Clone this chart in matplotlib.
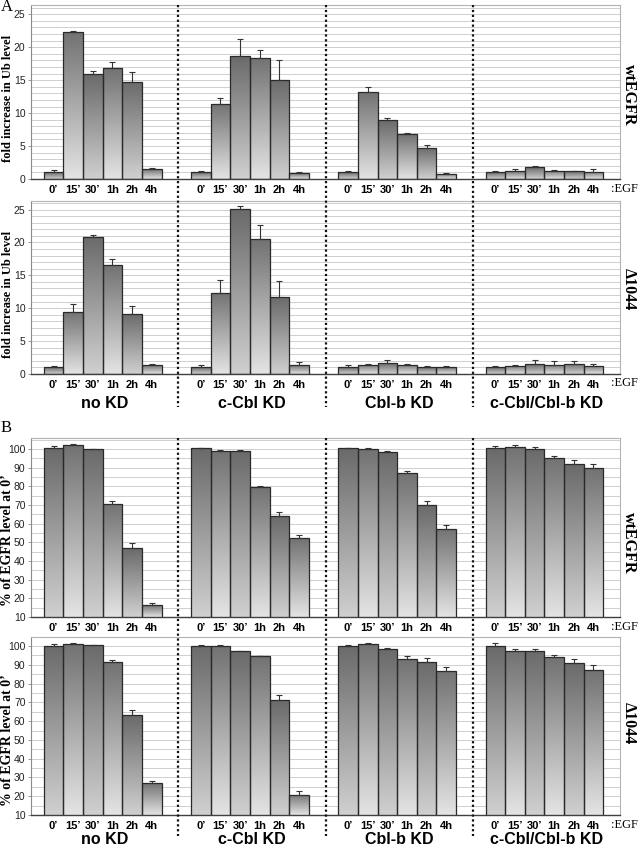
import numpy as np
import matplotlib
matplotlib.use('Agg')
import matplotlib.pyplot as plt
import matplotlib.transforms as mtransforms
from matplotlib.lines import Line2D
from matplotlib.colors import LinearSegmentedColormap

# ---------------- data ----------------
times = ["0’", "15’", "30’", "1h", "2h", "4h"]
groups = ["no KD", "c-Cbl KD", "Cbl-b KD", "c-Cbl/Cbl-b KD"]

ub_wt = [[1.0, 22.3, 15.9, 16.8, 14.75, 1.46],
         [1.0, 11.4, 18.6, 18.4, 15.0, 0.86],
         [1.0, 13.2, 8.9, 6.77, 4.75, 0.76],
         [1.06, 1.2, 1.77, 1.26, 1.16, 1.1]]
ub_wt_err = [[0.35, 0.15, 0.45, 1.0, 1.55, 0.15],
             [0.2, 0.9, 2.6, 1.2, 3.1, 0.2],
             [0.15, 0.7, 0.35, 0.15, 0.45, 0.15],
             [0.1, 0.3, 0.25, 0.15, 0.05, 0.35]]

ub_d = [[1.06, 9.5, 20.85, 16.5, 9.16, 1.3],
        [1.06, 12.35, 25.05, 20.5, 11.7, 1.3],
        [1.0, 1.37, 1.67, 1.42, 1.0, 1.0],
        [1.06, 1.26, 1.5, 1.42, 1.57, 1.26]]
ub_d_err = [[0.2, 1.1, 0.35, 1.0, 1.25, 0.15],
            [0.35, 2.0, 0.5, 2.2, 2.4, 0.45],
            [0.3, 0.15, 0.4, 0.1, 0.15, 0.15],
            [0.2, 0.1, 0.6, 0.6, 0.4, 0.3]]

egfr_wt = [[100.4, 102.0, 99.8, 70.8, 46.9, 16.2],
           [100.4, 99.1, 98.9, 79.7, 64.0, 52.1],
           [100.4, 100.0, 98.2, 87.0, 69.9, 57.4],
           [100.4, 100.9, 100.2, 95.2, 91.8, 89.7]]
egfr_wt_err = [[1.0, 0.7, 0.4, 1.2, 3.0, 1.5],
               [0.4, 0.5, 0.5, 0.7, 2.5, 1.8],
               [0.2, 0.7, 0.5, 1.4, 2.1, 1.8],
               [1.2, 1.2, 0.9, 1.2, 2.5, 2.1]]

egfr_d = [[100.2, 100.9, 100.4, 91.3, 63.1, 26.9],
          [100.2, 100.0, 97.2, 94.5, 71.1, 20.8],
          [100.2, 100.9, 98.2, 93.3, 91.6, 86.7],
          [100.0, 97.2, 97.5, 94.0, 90.8, 87.2]]
egfr_d_err = [[0.7, 0.7, 0.35, 1.2, 2.8, 1.4],
              [0.3, 0.5, 0.35, 0.35, 2.7, 1.8],
              [0.2, 0.7, 0.5, 1.4, 2.1, 2.0],
              [1.4, 1.4, 0.7, 1.1, 2.5, 2.5]]

# ---------------- layout ----------------
W, H = 640, 848
SANS = 'Liberation Sans'
SERIF = 'Liberation Serif'

fig = plt.figure(figsize=(W / 100, H / 100), dpi=100)
fig.patch.set_facecolor('white')

GW = 7.5        # group width in bar units
OFF = 0.65      # left gap inside group
NT = len(times)

cmap_a = LinearSegmentedColormap.from_list('ga', ['#d0d0d0', '#6a6a6a'])
cmap_b = LinearSegmentedColormap.from_list('gb', ['#e4e4e4', '#727272'])


def px_axes(top, bottom, left=31, right=620):
    return fig.add_axes([left / W, 1 - bottom / H, (right - left) / W, (bottom - top) / H])


def draw_row(top, bottom, vals, errs, ylim, major, minor, right_label, rl_y,
             ylabel, yl_y, yl_size):
    ax = px_axes(top, bottom)
    ax.set_xlim(0, GW * len(groups))
    ax.set_ylim(*ylim)
    ax.set_yticks(np.arange(ylim[0] if ylim[0] > 0 else 0, ylim[1] + 0.01, major))
    ax.set_yticks(np.arange(ylim[0], ylim[1], minor), minor=True)
    ax.yaxis.grid(True, which='both', color='#cfcfcf', lw=0.7)
    ax.set_axisbelow(True)
    for s in ['top', 'right']:
        ax.spines[s].set_color('#b4b4b4')
        ax.spines[s].set_linewidth(0.8)
    ax.spines['left'].set_color('#8a8a8a')
    ax.spines['left'].set_linewidth(0.8)
    ax.spines['bottom'].set_color('#404040')
    ax.spines['bottom'].set_linewidth(1.0)
    ax.tick_params(axis='y', which='major', length=2.5, width=0.6, color='#888',
                   labelsize=7.5, pad=1.5, labelcolor='#222')
    ax.tick_params(axis='y', which='minor', length=0)
    for lab in ax.get_yticklabels():
        lab.set_fontfamily(SANS)

    xs, labs = [], []
    for g in range(len(groups)):
        x = g * GW + OFF + 0.5 + np.arange(NT)
        rects = ax.bar(x, vals[g], width=1.0, facecolor='none', edgecolor='#2a2a2a',
                       linewidth=0.9, zorder=3)
        ax.errorbar(x, vals[g], yerr=[np.zeros(NT), errs[g]], fmt='none',
                    ecolor='#333333', elinewidth=0.8, capsize=2.3, capthick=0.8, zorder=4)
        for i, r in enumerate(rects):
            x0 = r.get_x()
            h = r.get_height()
            grad = np.linspace(0, 1, 256).reshape(-1, 1)
            im = ax.imshow(grad, cmap=(cmap_b if i % 2 else cmap_a), origin='lower',
                           extent=(x0, x0 + 1.0, ylim[0], h), aspect='auto', zorder=2,
                           interpolation='bilinear')
            im.set_clip_path(r)
        xs.extend(x)
        labs.extend(times)
    ax.set_xlim(0, GW * len(groups))
    ax.set_ylim(*ylim)
    ax.set_xticks(xs)
    ax.set_xticklabels(labs, fontfamily=SANS, fontweight='bold', fontsize=8)
    ax.tick_params(axis='x', length=0, pad=4.5)

    tick_y = bottom + 9.5
    fig.text(611 / W, 1 - tick_y / H, ':EGF', family=SERIF, fontsize=9,
             ha='left', va='center')
    fig.text(629 / W, 1 - rl_y / H, right_label, family=SERIF, fontweight='bold',
             fontsize=11.5, rotation=270, ha='center', va='center')
    fig.text(8 / W, 1 - yl_y / H, ylabel, family=SERIF, fontweight='bold',
             fontsize=yl_size, rotation=90, ha='center', va='center')
    return ax


ax1 = draw_row(5, 179, ub_wt, ub_wt_err, (0, 26.4), 5, 1, 'wtEGFR', 95,
               'fold increase in Ub level', 98, 9)
ax2 = draw_row(201, 374, ub_d, ub_d_err, (0, 26.3), 5, 1, 'Δ1044', 289,
               'fold increase in Ub level', 294, 9)
ax3 = draw_row(438, 617, egfr_wt, egfr_wt_err, (10, 105.9), 10, 5, 'wtEGFR', 543,
               '% of EGFR level at 0’', 540, 10)
ax4 = draw_row(637, 815, egfr_d, egfr_d_err, (10, 104.8), 10, 5, 'Δ1044', 723,
               '% of EGFR level at 0’', 740, 10)

# dotted separators spanning both rows of each panel
for ax, y0, y1 in [(ax1, 5, 407), (ax3, 438, 836)]:
    tr = mtransforms.blended_transform_factory(ax.transData, fig.transFigure)
    for g in range(1, len(groups)):
        fig.add_artist(Line2D([g * GW, g * GW], [1 - y0 / H, 1 - y1 / H], transform=tr,
                              color='#111111', lw=1.6, linestyle=(0, (1, 1.2))))

# group labels
for ax, yy in [(ax2, 403), (ax4, 840)]:
    tr = mtransforms.blended_transform_factory(ax.transData, fig.transFigure)
    for g, name in enumerate(groups):
        fig.text(g * GW + GW / 2, 1 - yy / H, name, transform=tr, family=SANS,
                 fontweight='bold', fontsize=11.5, ha='center', va='center')

# panel letters
fig.text(1 / W, 1 - 7 / H, 'A', family=SERIF, fontsize=12, ha='left', va='center')
fig.text(1 / W, 1 - 428 / H, 'B', family=SERIF, fontsize=12, ha='left', va='center')

fig.savefig('out.png', dpi=100, facecolor='white')
